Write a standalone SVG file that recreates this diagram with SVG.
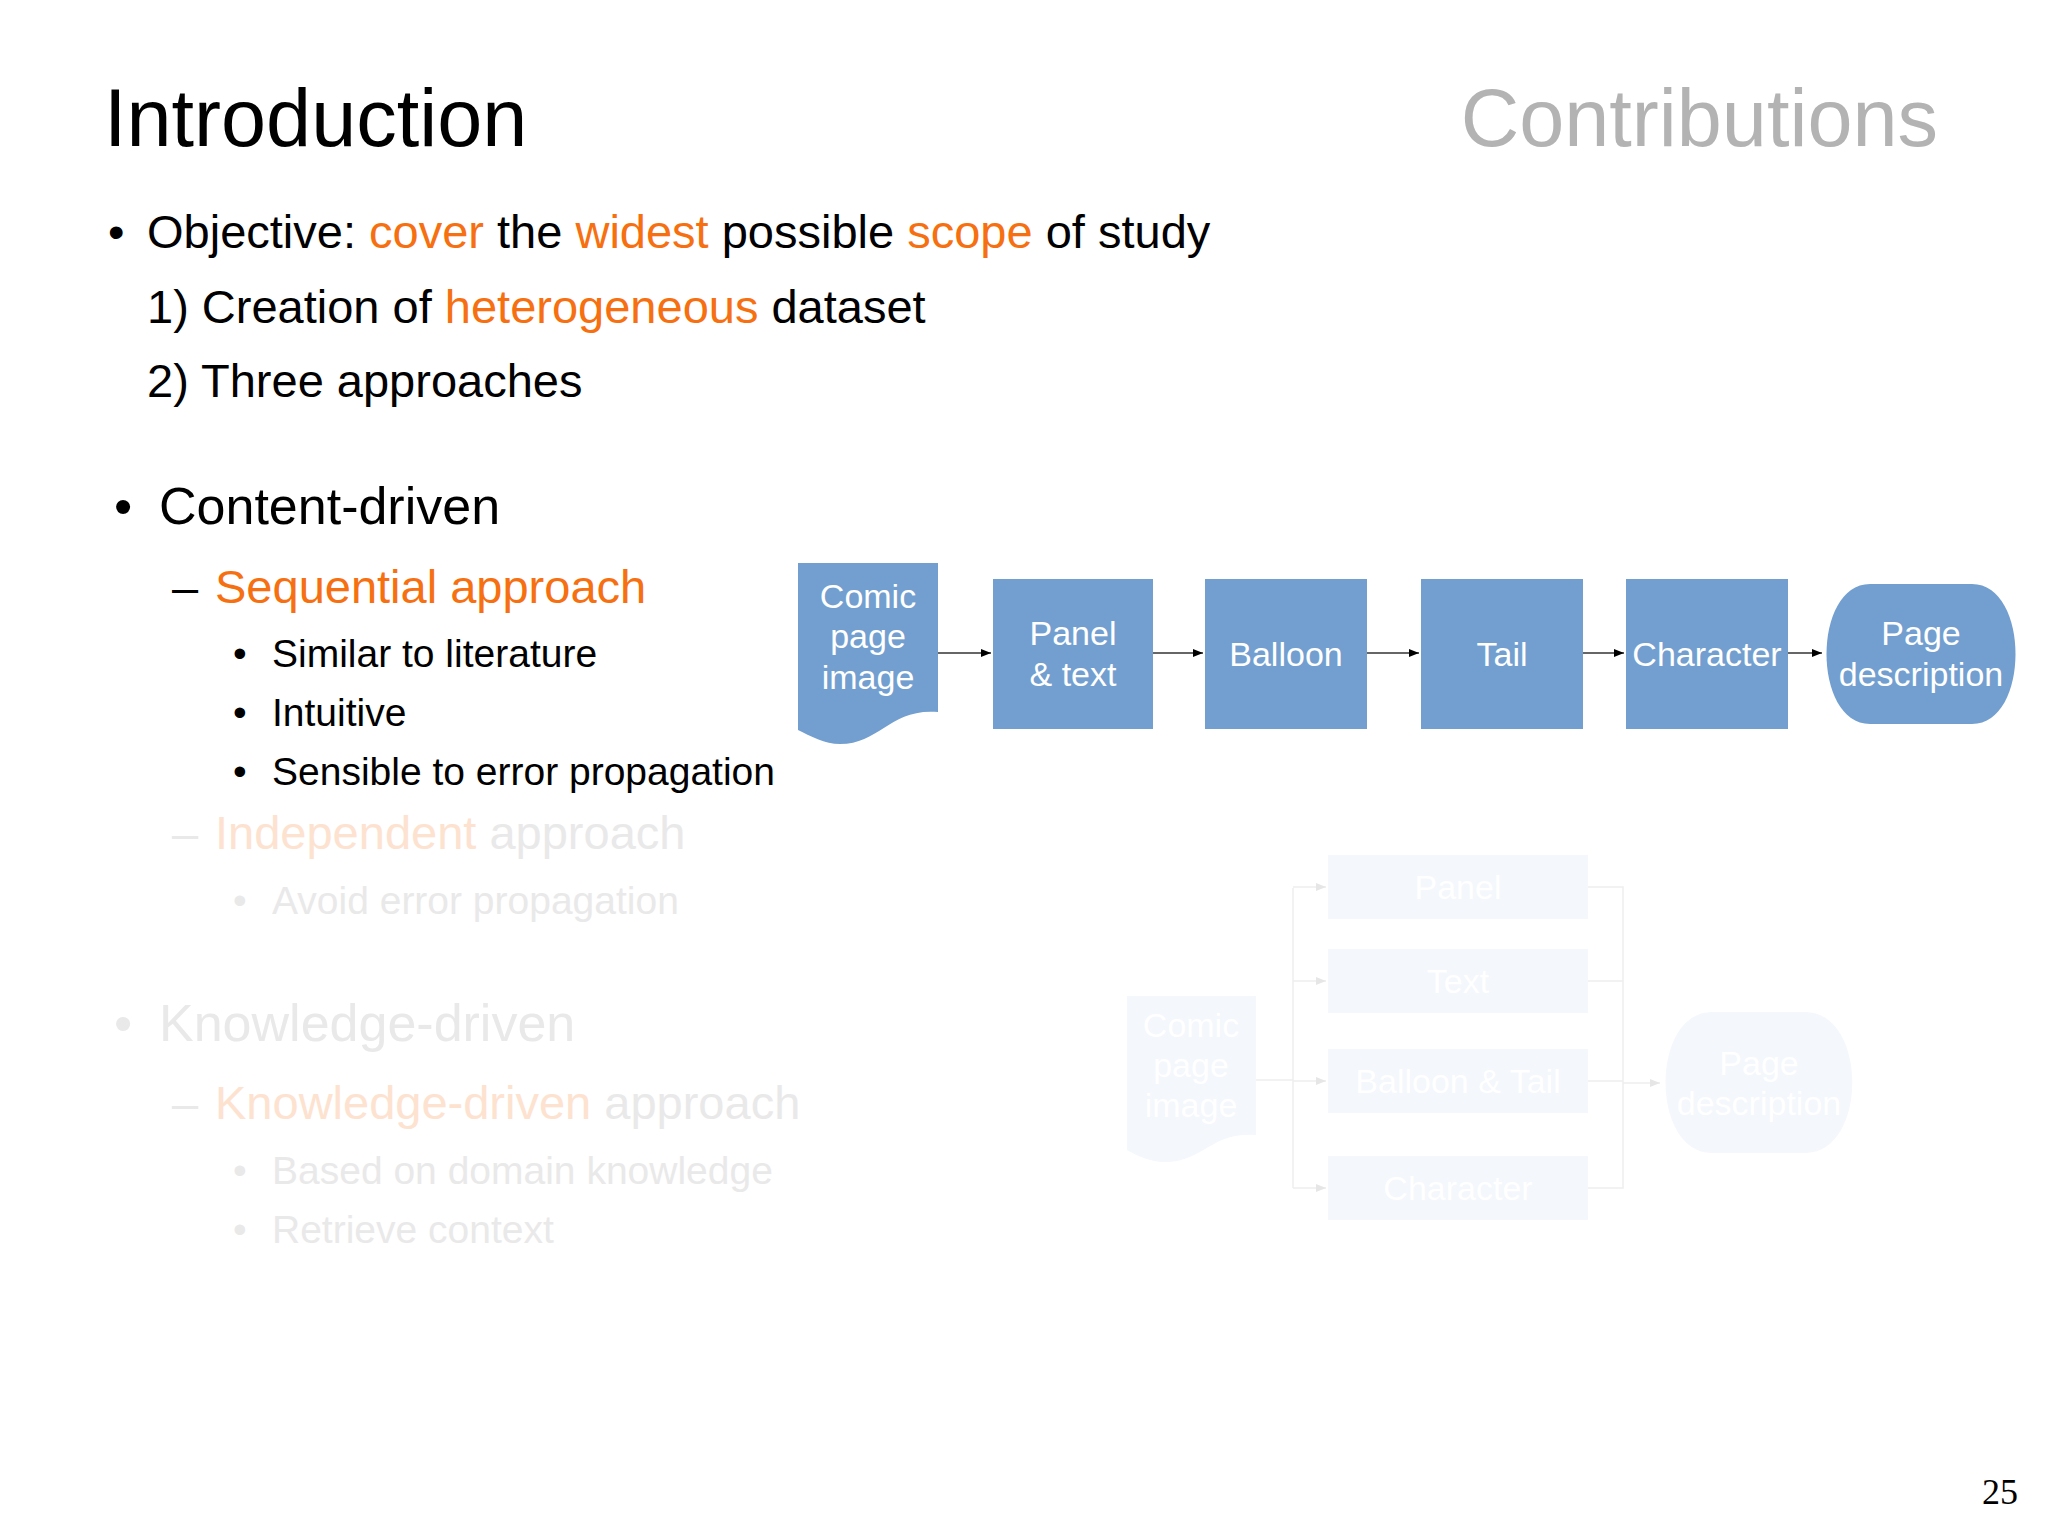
<svg xmlns="http://www.w3.org/2000/svg" width="2048" height="1535" viewBox="0 0 2048 1535">
<style>
text{font-family:"Liberation Sans",Arial,sans-serif}
.o{fill:#f67011}
.b{fill:#729fcf}
.bt{fill:#fff;font-size:34px;text-anchor:middle}
.f{fill:#f4f7fb}
.ft{fill:#fff;font-size:34px;text-anchor:middle}
.fg{fill:#e9e9e9}
.fo{fill:#fde2d0}
.ln{stroke:#333;stroke-width:1.5;fill:none}
.fl{stroke:#eeeeee;stroke-width:1.5;fill:none}
</style>
<defs>
<marker id="ah" markerWidth="10" markerHeight="8" refX="10" refY="4" orient="auto" markerUnits="userSpaceOnUse" viewBox="0 0 10 8"><path d="M0,0L10,4L0,8z" fill="#000"/></marker>
<marker id="fh" markerWidth="10" markerHeight="8" refX="10" refY="4" orient="auto" viewBox="0 0 10 8" markerUnits="userSpaceOnUse"><path d="M0,0L10,4L0,8z" fill="#e6e6e6"/></marker>
</defs>
<rect width="2048" height="1535" fill="#fff"/>
<text x="104" y="146" font-size="81">Introduction</text>
<text x="1938" y="146" font-size="81" fill="#b3b3b3" text-anchor="end">Contributions</text>
<g font-size="47">
<text x="108" y="248">•</text>
<text x="147" y="248">Objective: <tspan class="o">cover</tspan> the <tspan class="o">widest</tspan> possible <tspan class="o">scope</tspan> of study</text>
<text x="147" y="323">1) Creation of <tspan class="o">heterogeneous</tspan> dataset</text>
<text x="147" y="397">2) Three approaches</text>
</g>
<g font-size="52">
<text x="114" y="524">•</text><text x="159" y="524">Content-driven</text>
<text x="114" y="1041" class="fg">•</text><text x="159" y="1041" class="fg">Knowledge-driven</text>
</g>
<g font-size="47">
<text x="172" y="603">–</text><text x="215" y="603" class="o">Sequential approach</text>
<text x="172" y="849" class="fg">–</text><text x="215" y="849"><tspan class="fo">Independent</tspan><tspan class="fg"> approach</tspan></text>
<text x="172" y="1119" class="fg">–</text><text x="215" y="1119"><tspan class="fo">Knowledge-driven</tspan><tspan class="fg"> approach</tspan></text>
</g>
<g font-size="39">
<text x="233" y="667">•</text><text x="272" y="667">Similar to literature</text>
<text x="233" y="726">•</text><text x="272" y="726">Intuitive</text>
<text x="233" y="785">•</text><text x="272" y="785">Sensible to error propagation</text>
<text x="233" y="914" class="fg">•</text><text x="272" y="914" class="fg">Avoid error propagation</text>
<text x="233" y="1184" class="fg">•</text><text x="272" y="1184" class="fg">Based on domain knowledge</text>
<text x="233" y="1243" class="fg">•</text><text x="272" y="1243" class="fg">Retrieve context</text>
</g>
<text x="2018" y="1504" font-size="36" text-anchor="end" style="font-family:'Liberation Serif',serif">25</text>
<g id="connectors">
<path class="ln" d="M938,653H991" marker-end="url(#ah)"/>
<path class="ln" d="M1153,653H1203" marker-end="url(#ah)"/>
<path class="ln" d="M1367,653H1419" marker-end="url(#ah)"/>
<path class="ln" d="M1583,653H1624" marker-end="url(#ah)"/>
<path class="ln" d="M1788,653H1822" marker-end="url(#ah)"/>
<path class="fl" d="M1256,1080H1293M1293,888V1188"/>
<path class="fl" d="M1293,887H1326" marker-end="url(#fh)"/>
<path class="fl" d="M1293,981H1326" marker-end="url(#fh)"/>
<path class="fl" d="M1293,1081H1326" marker-end="url(#fh)"/>
<path class="fl" d="M1293,1188H1326" marker-end="url(#fh)"/>
<path class="fl" d="M1588,887H1623V1188H1588M1588,981H1623M1588,1081H1623"/>
<path class="fl" d="M1623,1083H1660" marker-end="url(#fh)"/>
</g>
<g id="comic"><path class="b" d="M798,563H938V712C890,708,880,744,840,744C825,744,810,736,798,730Z"/><text class="bt" x="868" y="608">Comic</text><text class="bt" x="868" y="648">page</text><text class="bt" x="868" y="689">image</text></g>
<g id="panel"><rect class="b" x="993" y="579" width="160" height="150"/><text class="bt" x="1073" y="645">Panel</text><text class="bt" x="1073" y="686">&amp; text</text></g>
<g id="balloon"><rect class="b" x="1205" y="579" width="162" height="150"/><text class="bt" x="1286" y="666">Balloon</text></g>
<g id="tail"><rect class="b" x="1421" y="579" width="162" height="150"/><text class="bt" x="1502" y="666">Tail</text></g>
<g id="character"><rect class="b" x="1626" y="579" width="162" height="150"/><text class="bt" x="1707" y="666">Character</text></g>
<g id="pagedesc"><path class="b" d="M1870,584H1972C2030,584,2030,724,1972,724H1870C1812,724,1812,584,1870,584Z"/><text class="bt" x="1921" y="645">Page</text><text class="bt" x="1921" y="686">description</text></g>
<g id="f-comic"><path class="f" d="M1127,996H1256V1135C1212,1131,1203,1162,1165,1162C1150,1162,1138,1156,1127,1150Z"/><text class="ft" x="1191" y="1037">Comic</text><text class="ft" x="1191" y="1077">page</text><text class="ft" x="1191" y="1117">image</text></g>
<g id="f-panel"><rect class="f" x="1328" y="855" width="260" height="64"/><text class="ft" x="1458" y="899">Panel</text></g>
<g id="f-text"><rect class="f" x="1328" y="949" width="260" height="64"/><text class="ft" x="1458" y="993">Text</text></g>
<g id="f-balloon"><rect class="f" x="1328" y="1049" width="260" height="64"/><text class="ft" x="1458" y="1093">Balloon &amp; Tail</text></g>
<g id="f-character"><rect class="f" x="1328" y="1156" width="260" height="64"/><text class="ft" x="1458" y="1200">Character</text></g>
<g id="f-pagedesc"><path class="f" d="M1712,1012H1805C1868,1012,1868,1153,1805,1153H1712C1650,1153,1650,1012,1712,1012Z"/><text class="ft" x="1759" y="1075">Page</text><text class="ft" x="1759" y="1115">description</text></g>
</svg>
